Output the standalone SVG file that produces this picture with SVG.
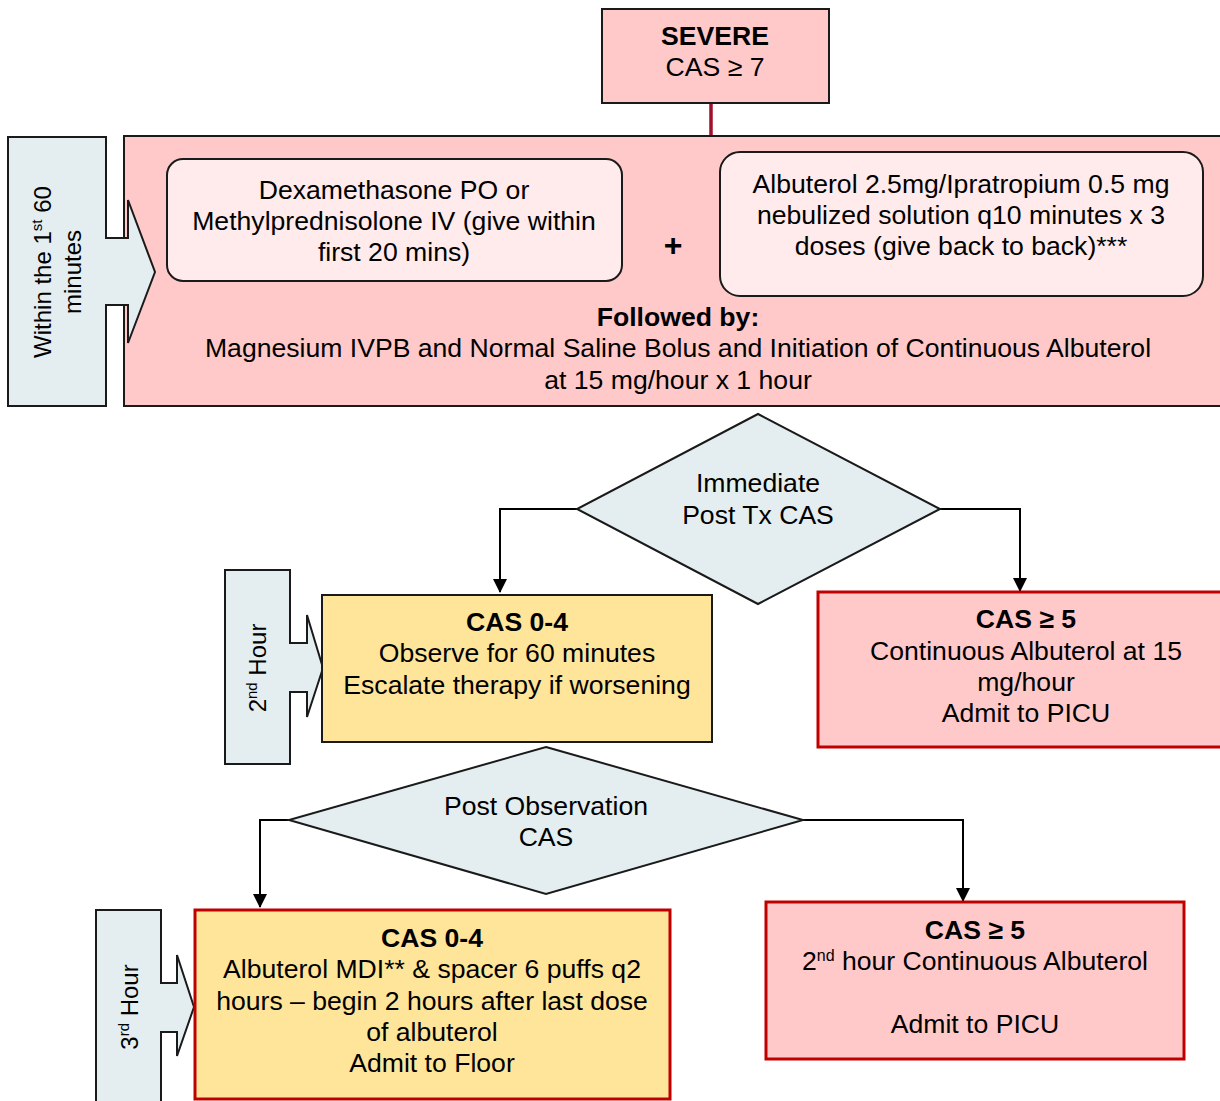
<svg xmlns="http://www.w3.org/2000/svg" width="1220" height="1101" viewBox="0 0 1220 1101">
<style>
text{font-family:"Liberation Sans",Arial,sans-serif;font-size:26.6px;fill:#000;text-anchor:middle}
.b{font-weight:bold}
.rot{font-size:24px}
.pink{fill:#ffc9c9;stroke:#1a1a1a;stroke-width:2}
.pinkred{fill:#ffc9c9;stroke:#c00000;stroke-width:3}
.yel{fill:#ffe59a;stroke:#1a1a1a;stroke-width:2}
.yelred{fill:#ffe59a;stroke:#c00000;stroke-width:3}
.light{fill:#ffebeb;stroke:#1a1a1a;stroke-width:2}
.blue{fill:#e4eef0;stroke:#1a1a1a;stroke-width:2}
.conn{fill:none;stroke:#000;stroke-width:2}
</style>
<defs>
<marker id="ah" viewBox="0 0 14 14" refX="13" refY="7" markerWidth="14" markerHeight="14" markerUnits="userSpaceOnUse" orient="auto">
<path d="M0,0 L14,7 L0,14 Z" fill="#000"/>
</marker>
</defs>
<rect width="1220" height="1101" fill="#fff"/>

<g id="connectors">
<line x1="711" y1="103" x2="711" y2="140" stroke="#a0102a" stroke-width="3.5"/>
<path class="conn" d="M577,509 H500 V592" marker-end="url(#ah)"/>
<path class="conn" d="M940,509 H1020 V591" marker-end="url(#ah)"/>
<path class="conn" d="M289,820 H260 V907" marker-end="url(#ah)"/>
<path class="conn" d="M803,820 H963 V901" marker-end="url(#ah)"/>
</g>

<g id="severe">
<rect class="pink" x="602" y="9" width="227" height="94"/>
<text class="b" x="715" y="45">SEVERE</text>
<text x="715" y="76">CAS ≥ 7</text>
</g>

<g id="phase1">
<rect class="pink" x="124" y="136" width="1110" height="270"/>
<text class="b" x="678" y="326">Followed by:</text>
<text x="678" y="357">Magnesium IVPB and Normal Saline Bolus and Initiation of Continuous Albuterol</text>
<text x="678" y="389">at 15 mg/hour x 1 hour</text>
<text class="b" x="673" y="256" style="font-size:32px">+</text>
</g>

<g id="steroids">
<rect class="light" x="167" y="159" width="455" height="122" rx="16"/>
<text x="394" y="199">Dexamethasone PO or</text>
<text x="394" y="230">Methylprednisolone IV (give within</text>
<text x="394" y="261">first 20 mins)</text>
</g>

<g id="nebs">
<rect class="light" x="720" y="152" width="483" height="144" rx="20"/>
<text x="961" y="193">Albuterol 2.5mg/Ipratropium 0.5 mg</text>
<text x="961" y="224">nebulized solution q10 minutes x 3</text>
<text x="961" y="255">doses (give back to back)***</text>
</g>

<g id="label-first60">
<path class="blue" d="M8,137 H106 V238 H128 V200 L155,272 L128,343 V305 H106 V406 H8 Z"/>
<text class="rot" transform="translate(51,272) rotate(-90)">Within the 1<tspan dy="-9" font-size="15">st</tspan><tspan dy="9"> 60</tspan></text>
<text class="rot" transform="translate(81,272) rotate(-90)">minutes</text>
</g>

<g id="decision1">
<polygon class="blue" points="758,414 940,509 758,604 577,509"/>
<text x="758" y="492">Immediate</text>
<text x="758" y="524">Post Tx CAS</text>
</g>

<g id="label-2nd">
<path class="blue" d="M225,570 H290 V643 H307 V615 L323,668 L307,717 V692 H290 V764 H225 Z"/>
<text class="rot" transform="translate(266,668) rotate(-90)">2<tspan dy="-9" font-size="15">nd</tspan><tspan dy="9"> Hour</tspan></text>
</g>

<g id="observe">
<rect class="yel" x="322" y="595" width="390" height="147"/>
<text class="b" x="517" y="631">CAS 0-4</text>
<text x="517" y="662">Observe for 60 minutes</text>
<text x="517" y="694">Escalate therapy if worsening</text>
</g>

<g id="picu1">
<rect class="pinkred" x="818" y="592" width="420" height="155"/>
<text class="b" x="1026" y="628">CAS ≥ 5</text>
<text x="1026" y="660">Continuous Albuterol at 15</text>
<text x="1026" y="691">mg/hour</text>
<text x="1026" y="722">Admit to PICU</text>
</g>

<g id="decision2">
<polygon class="blue" points="546,747 803,820 546,894 289,820"/>
<text x="546" y="815">Post Observation</text>
<text x="546" y="846">CAS</text>
</g>

<g id="label-3rd">
<path class="blue" d="M96,910 H161 V983 H177 V955 L194,1007 L177,1056 V1032 H161 V1110 H96 Z"/>
<text class="rot" transform="translate(138,1007) rotate(-90)">3<tspan dy="-9" font-size="15">rd</tspan><tspan dy="9"> Hour</tspan></text>
</g>

<g id="floor">
<rect class="yelred" x="195" y="910" width="475" height="189"/>
<text class="b" x="432" y="947">CAS 0-4</text>
<text x="432" y="978">Albuterol MDI** &amp; spacer 6 puffs q2</text>
<text x="432" y="1010">hours – begin 2 hours after last dose</text>
<text x="432" y="1041">of albuterol</text>
<text x="432" y="1072">Admit to Floor</text>
</g>

<g id="picu2">
<rect class="pinkred" x="766" y="902" width="418" height="157"/>
<text class="b" x="975" y="939">CAS ≥ 5</text>
<text x="975" y="970">2<tspan dy="-9" font-size="16">nd</tspan><tspan dy="9"> hour Continuous Albuterol</tspan></text>
<text x="975" y="1033">Admit to PICU</text>
</g>
</svg>
